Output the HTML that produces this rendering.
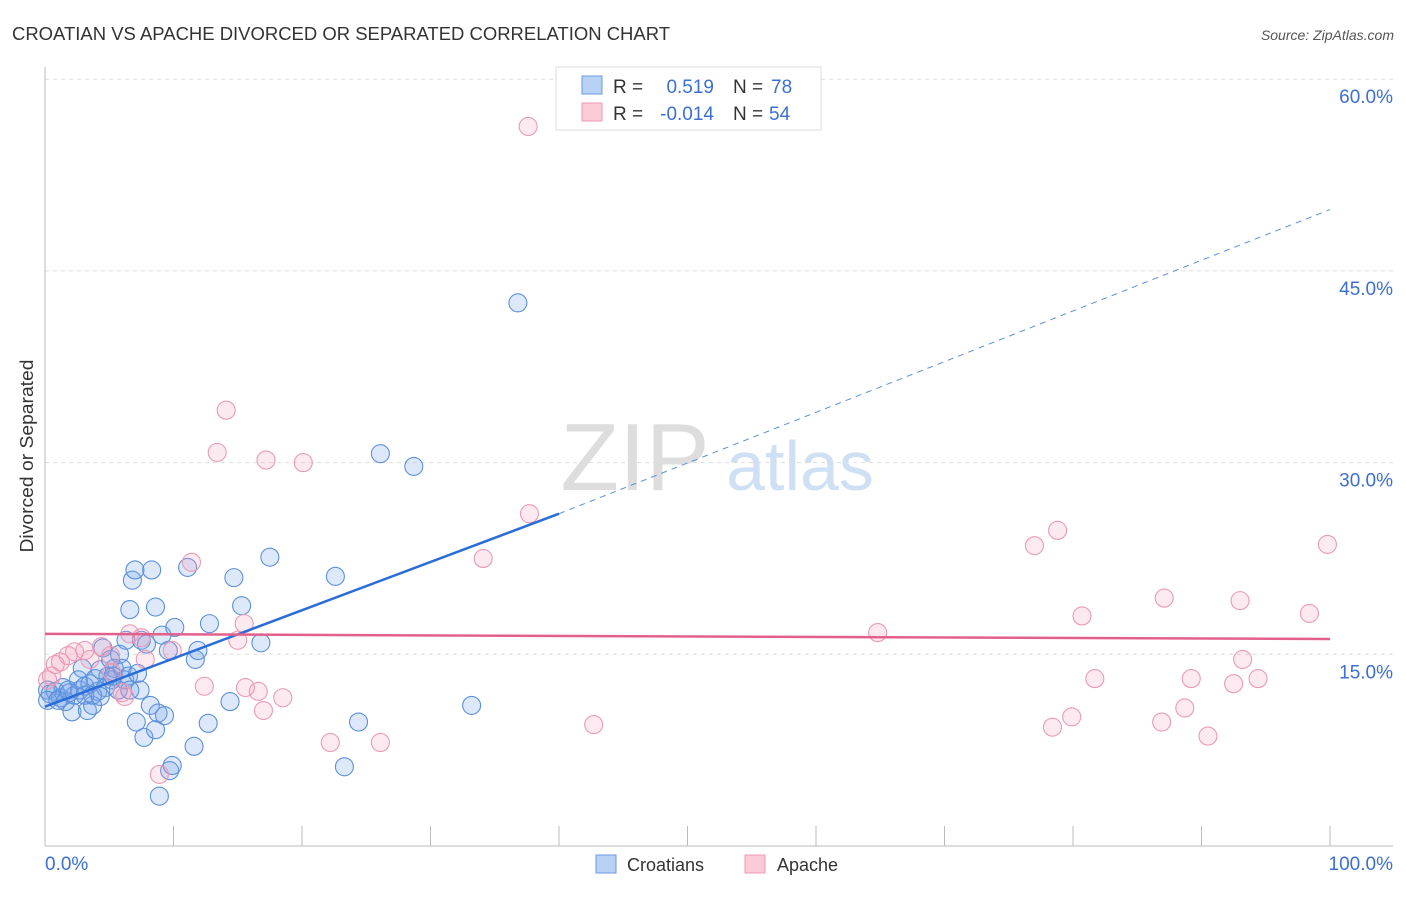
<!DOCTYPE html>
<html><head><meta charset="utf-8"><style>
body{margin:0;background:#fff;font-family:"Liberation Sans",sans-serif}
svg text{font-family:"Liberation Sans",sans-serif}
</style></head><body>
<svg id="c" width="1406" height="892">
<text x="12" y="40" font-size="18" fill="#333" textLength="658" lengthAdjust="spacingAndGlyphs">CROATIAN VS APACHE DIVORCED OR SEPARATED CORRELATION CHART</text>
<text x="1394" y="40" font-size="14" fill="#555" text-anchor="end" font-style="italic">Source: ZipAtlas.com</text>
<text x="33" y="456" font-size="18" fill="#333" text-anchor="middle" transform="rotate(-90 33 456)" textLength="193" lengthAdjust="spacingAndGlyphs">Divorced or Separated</text>
<g><text x="635" y="490" font-size="96" fill="#ddd" text-anchor="middle" font-family="Liberation Serif">ZIP</text><text x="800" y="490" font-size="70" fill="#cfe0f5" text-anchor="middle">atlas</text></g>
<g id="grid"></g><g id="axes"></g><g id="pts"></g><g id="trend"></g>
<g>
<rect x="556" y="67" width="265" height="63" fill="#fff" stroke="#ddd"/>
<rect x="582" y="76" width="20" height="18" fill="#b8d2f5" stroke="#6a9ae0"/>
<rect x="582" y="103" width="20" height="18" fill="#fccbd8" stroke="#ee9ab2"/>
<text x="613" y="93" font-size="19" fill="#333">R =</text><text x="714" y="93" font-size="19" fill="#3b6fd4" text-anchor="end">0.519</text>
<text x="733" y="93" font-size="19" fill="#333">N =</text><text x="771" y="93" font-size="19" fill="#3b6fd4">78</text>
<text x="613" y="120" font-size="19" fill="#333">R =</text><text x="714" y="120" font-size="19" fill="#3b6fd4" text-anchor="end">-0.014</text>
<text x="733" y="120" font-size="19" fill="#333">N =</text><text x="769" y="120" font-size="19" fill="#3b6fd4">54</text>
</g>
<g>
<rect x="596" y="855" width="20" height="18" fill="#b8d2f5" stroke="#6a9ae0"/><text x="627" y="871" font-size="18" fill="#333">Croatians</text>
<rect x="745" y="855" width="20" height="18" fill="#fccbd8" stroke="#ee9ab2"/><text x="777" y="871" font-size="18" fill="#333">Apache</text>
</g>
</svg>
<script>
const blueX=[0.2,0.4,0.8,1.2,1.4,1.6,1.8,2.1,2.3,2.6,2.7,2.9,3.1,3.3,3.5,3.7,3.9,4.1,4.3,4.5,4.7,4.9,5.1,5.2,5.4,5.7,5.8,6.0,6.2,6.3,6.5,6.6,6.8,7.0,7.1,7.2,7.4,7.5,7.7,7.9,8.2,8.3,8.6,8.6,8.8,9.1,9.3,9.6,9.7,9.9,10.1,8.9,11.1,11.7,11.6,11.9,12.7,12.8,14.4,14.7,15.3,16.8,17.5,22.6,23.3,24.4,26.1,28.7,33.2,36.8,0.2,1.0,1.9,3.1,3.7,5.3,4.3,6.6];
const blueY=[12.2,11.9,12.1,11.6,12.4,11.3,12.2,10.5,11.8,13.0,12.2,13.9,12.5,10.6,12.7,11.0,13.1,12.1,13.8,15.5,12.4,13.3,14.6,13.0,13.9,12.2,15.0,13.9,13.0,16.1,13.3,18.5,20.8,21.6,9.7,13.5,12.2,16.1,8.5,15.8,11.0,21.6,18.7,9.1,10.4,16.5,10.2,15.3,5.9,6.3,17.1,3.9,21.8,14.6,7.8,15.3,9.6,17.4,11.3,21.0,18.8,15.9,22.6,21.1,6.2,9.7,30.7,29.7,11.0,42.5,11.4,11.4,12.0,11.8,11.8,13.3,11.7,12.2];
const pinkX=[37.6,14.1,13.4,17.2,20.1,37.7,11.4,34.1,77.0,78.8,99.8,64.8,87.1,93.0,80.7,98.4,15.5,15.0,6.6,7.5,4.4,3.1,1.8,2.3,0.8,1.2,5.1,3.5,7.8,9.9,12.4,15.6,16.6,18.5,17.0,6.0,6.2,93.2,81.7,89.2,92.5,94.4,78.4,79.9,86.9,88.7,90.5,42.7,22.2,26.1,8.9,5.2,0.2,0.5];
const pinkY=[56.3,34.1,30.8,30.2,30.0,26.0,22.2,22.5,23.5,24.7,23.6,16.7,19.4,19.2,18.0,18.2,17.4,16.1,16.6,16.3,15.6,15.3,14.9,15.2,14.2,14.4,14.9,14.6,14.6,15.3,12.5,12.4,12.1,11.6,10.6,12.0,11.7,14.6,13.1,13.1,12.7,13.1,9.3,10.1,9.7,10.8,8.6,9.5,8.1,8.1,5.6,13.6,13.0,13.3];
const yTicks=[15,30,45,60];
const yTickLabels=["15.0%","30.0%","45.0%","60.0%"];
const xTicks=[0,10,20,30,40,50,60,70,80,90,100];
const blueTrend=[[0,10.9],[40,26.0],[100,49.8]];
const pinkTrend=[[0,16.6],[100,16.2]];
const NS='http://www.w3.org/2000/svg';
const sx=v=>45+v*12.85, sy=v=>846-v*12.78;
function mk(tag,attrs,parent){const e=document.createElementNS(NS,tag);for(const k in attrs)e.setAttribute(k,attrs[k]);document.getElementById(parent).appendChild(e);return e;}
yTicks.forEach((t,i)=>{
  const g=mk('line',{x1:45,x2:1393,y1:sy(t),y2:sy(t),stroke:'#ddd','stroke-dasharray':'4,4'},'grid');
  
  
  const l=mk('text',{x:1393,y:sy(t)+24,'font-size':19,fill:'#3b6fd4','text-anchor':'end'},'grid');
  l.textContent=yTickLabels[i];
  
  
});
let a=mk('line',{x1:45,x2:45,y1:67,y2:846,stroke:'#bbb'},'axes');


a=mk('line',{x1:45,x2:1393,y1:846,y2:846,stroke:'#bbb'},'axes');


xTicks.forEach(t=>{
  const e=mk('line',{x1:sx(t),x2:sx(t),y1:826,y2:846,stroke:'#bbb'},'axes');
  
  
});
let t0=mk('text',{x:45,y:870,'font-size':19,fill:'#3b6fd4'},'axes');t0.textContent='0.0%';


let t1=mk('text',{x:1393,y:870,'font-size':19,fill:'#3b6fd4','text-anchor':'end'},'axes');t1.textContent='100.0%';


blueX.forEach((x,i)=>{
  const c=mk('circle',{cx:sx(x),cy:sy(blueY[i]),r:9,fill:'rgba(120,165,235,0.25)',stroke:'#5b90dc','stroke-width':1.1},'pts');
  
  
});
pinkX.forEach((x,i)=>{
  const c=mk('circle',{cx:sx(x),cy:sy(pinkY[i]),r:9,fill:'rgba(245,150,180,0.2)',stroke:'#ea9ab3','stroke-width':1.1},'pts');
  
  
});
let b=mk('line',{x1:sx(blueTrend[0][0]),y1:sy(blueTrend[0][1]),x2:sx(blueTrend[1][0]),y2:sy(blueTrend[1][1]),stroke:'#2a6dd8','stroke-width':2.5},'trend');


b=mk('line',{x1:sx(blueTrend[1][0]),y1:sy(blueTrend[1][1]),x2:sx(blueTrend[2][0]),y2:sy(blueTrend[2][1]),stroke:'#5b90dc','stroke-width':1,'stroke-dasharray':'6,5'},'trend');


b=mk('line',{x1:sx(pinkTrend[0][0]),y1:sy(pinkTrend[0][1]),x2:sx(pinkTrend[1][0]),y2:sy(pinkTrend[1][1]),stroke:'#e4608c','stroke-width':2.5},'trend');


</script>
</body></html>
